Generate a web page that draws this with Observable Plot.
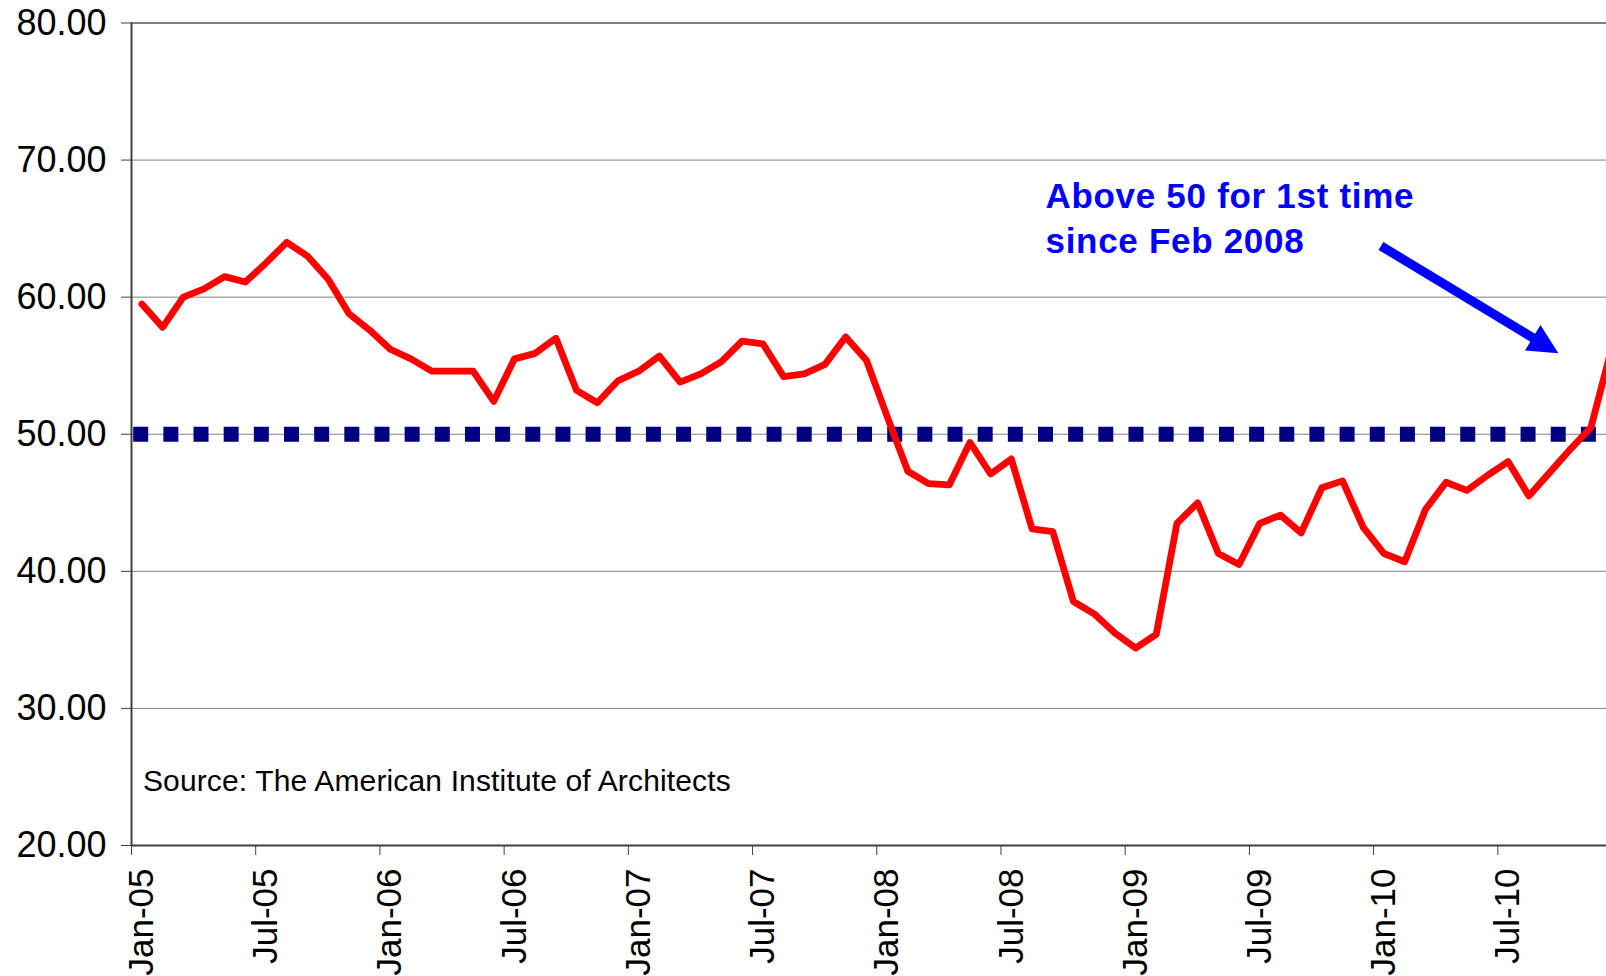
<!DOCTYPE html>
<html><head><meta charset="utf-8">
<script src="https://cdn.jsdelivr.net/npm/d3@7"></script>
<script src="https://cdn.jsdelivr.net/npm/@observablehq/plot@0.6"></script>
<style>
html,body{margin:0;padding:0;background:#fff;overflow:hidden;}
#chart svg{display:block;}
</style></head><body><div id="chart"></div>
<script>
// Month categories Jan-05 .. Dec-10
const monthNames = ["Jan","Feb","Mar","Apr","May","Jun","Jul","Aug","Sep","Oct","Nov","Dec"];
const years = ["05","06","07","08","09","10"];
const months = years.flatMap(y => monthNames.map(m => `${m}-${y}`));

// Architecture Billings Index
const abi = [
  59.5,57.8,60.0,60.6,61.5,61.1,62.5,64.0,63.0,61.3,58.8,57.6,
  56.2,55.5,54.6,54.6,54.6,52.4,55.5,55.9,57.0,53.2,52.3,53.9,
  54.6,55.7,53.8,54.4,55.3,56.8,56.6,54.2,54.4,55.1,57.1,55.4,
  51.3,47.3,46.4,46.3,49.4,47.1,48.2,43.1,42.9,37.8,36.9,35.5,
  34.4,35.4,43.5,45.0,41.3,40.5,43.5,44.1,42.8,46.1,46.6,43.2,
  41.3,40.7,44.5,46.5,45.9,47.0,48.0,45.5,47.2,48.9,50.5,56.3
];
const threshold = 50;

// Axis ticks
const yTicks = [20,30,40,50,60,70,80];
const xTickLabels = ["Jan-05","Jul-05","Jan-06","Jul-06","Jan-07","Jul-07","Jan-08","Jul-08","Jan-09","Jul-09","Jan-10","Jul-10"];

// Annotation content
const annotLines = ["Above 50 for 1st time", "since Feb 2008"];
const sourceText = "Source: The American Institute of Architects";

// ---- derived tables ----
const table = abi.map((v, i) => ({pos: i + 0.5, month: months[i], value: v}));
const tickIdx = xTickLabels.map(l => months.indexOf(l));
const tickBounds = tickIdx;                    // tick marks between categories
const tickCenters = tickIdx.map(i => i + 0.5); // labels centered on category

// annotation placement (data units)
const annotX = 44.15, annotY = [66.47, 63.19];
const arrowFrom = {x: 60.38, y: 63.7}, arrowTo = {x: 68.95, y: 55.87};
const sourceAt = {x: 0.55, y: 24.0};

function arrowMark(index, scales) {
  const {x, y} = scales;
  const sx = x(arrowFrom.x), sy = y(arrowFrom.y), tx = x(arrowTo.x), ty = y(arrowTo.y);
  const dx = tx - sx, dy = ty - sy, len = Math.hypot(dx, dy);
  const ux = dx / len, uy = dy / len, nx = -uy, ny = ux;
  const L = 30, W = 15, h = 4.6;
  const bx = tx - L * ux, by = ty - L * uy;
  const pts = [
    [sx + h*nx, sy + h*ny], [bx + h*nx, by + h*ny], [bx + W*nx, by + W*ny],
    [tx, ty], [bx - W*nx, by - W*ny], [bx - h*nx, by - h*ny], [sx - h*nx, sy - h*ny]
  ];
  const g = d3.create("svg:g").attr("aria-label", "arrow");
  g.append("polygon").attr("points", pts.map(p => p.join(",")).join(" ")).attr("fill", "#0000FF");
  return g.node();
}

const font = "'Liberation Sans', Arial, Helvetica, sans-serif";

const plot = Plot.plot({
  width: 1606, height: 976,
  marginTop: 22.5, marginBottom: 131, marginLeft: 131, marginRight: 0,
  style: {fontFamily: font, background: "white", overflow: "hidden", color: "black"},
  x: {type: "linear", domain: [0, 71.25]},
  y: {domain: [20, 80]},
  marks: [
    Plot.ruleY(yTicks.filter(t => t > 20 && t < 80), {stroke: "#808080", strokeWidth: 1}),
    Plot.ruleY([80], {stroke: "#808080", strokeWidth: 2}),
    Plot.ruleY([threshold], {stroke: "#000080", strokeWidth: 15, strokeDasharray: "15,15.16", strokeDashoffset: -2.2}),
    Plot.line(table, {x: "pos", y: "value", stroke: "#ff0000", strokeWidth: 6.8, strokeLinejoin: "round", strokeLinecap: "round", clip: true}),
    Plot.ruleX([0], {stroke: "#404040", strokeWidth: 2}),
    Plot.ruleY([20], {stroke: "#404040", strokeWidth: 2}),
    Plot.axisY({ticks: yTicks, tickFormat: d => d.toFixed(2), tickSize: 10, tickPadding: 15, fontSize: 36, label: null, stroke: "#404040", fill: "black"}),
    Plot.axisX({ticks: tickBounds, tickFormat: () => "", tickSize: 10, label: null, stroke: "#404040"}),
    Plot.axisX({ticks: tickCenters, tickFormat: (d, i) => xTickLabels[i], tickSize: 0, tickPadding: 23, tickRotate: -90, fontSize: 35, label: null, fill: "black"}),
    Plot.text(annotLines, {x: () => annotX, y: (d, i) => annotY[i], text: d => d, fill: "#0000FF", fontWeight: "bold", fontSize: 35, textAnchor: "start", lineAnchor: "bottom"}),
    Plot.text([sourceText], {x: () => sourceAt.x, y: () => sourceAt.y, text: d => d, fill: "black", fontSize: 30, textAnchor: "start", lineAnchor: "bottom"}),
    arrowMark
  ]
});
// letter spacing to match the reference's wider text setting
d3.select(plot).selectAll("text").each(function() {
  const t = this.textContent;
  if (annotLines.includes(t)) this.setAttribute("letter-spacing", "0.7");
  else if (t === sourceText) this.setAttribute("letter-spacing", "0.15");
});
document.getElementById("chart").appendChild(plot);
</script>
</body></html>
